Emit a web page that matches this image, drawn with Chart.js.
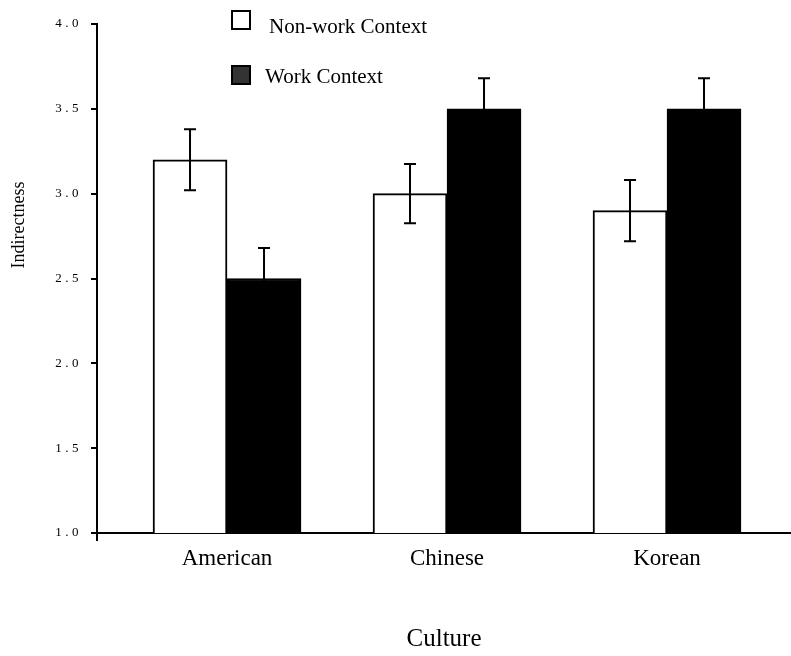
<!DOCTYPE html>
<html><head><meta charset="utf-8">
<script src="https://cdn.jsdelivr.net/npm/chart.js@4.4.1/dist/chart.umd.min.js"></script>
<style>html,body{margin:0;padding:0;background:#fff;overflow:hidden;}</style>
</head><body>
<canvas id="c" width="791" height="656" style="display:block;width:791px;height:656px"></canvas>
<script>
const categories = ['American', 'Chinese', 'Korean'];
const seriesNames = ['Non-work Context', 'Work Context'];
const nonWork = [3.2, 3.0, 2.9];
const work = [2.5, 3.5, 3.5];
const nonWorkErr = [0.18, 0.175, 0.18];
const workErr = [0.18, 0.18, 0.18];
const yTicks = [1.0, 1.5, 2.0, 2.5, 3.0, 3.5, 4.0];
const xTitle = 'Culture';
const yTitle = 'Indirectness';

const SERIF = '"Liberation Serif", "Times New Roman", serif';

const errorBarPlugin = {
  id: 'errorBars',
  afterDatasetsDraw(chart) {
    const ctx = chart.ctx, ys = chart.scales.y;
    ctx.save();
    ctx.strokeStyle = '#000';
    ctx.lineWidth = 2;
    chart.data.datasets.forEach((ds, di) => {
      const meta = chart.getDatasetMeta(di);
      meta.data.forEach((bar, i) => {
        const v = ds.data[i].y, e = ds.errors[i];
        const yt = ys.getPixelForValue(v + e), yb = ys.getPixelForValue(v - e);
        const x = bar.x, cap = 6;
        ctx.beginPath();
        ctx.moveTo(x, yt); ctx.lineTo(x, yb);
        ctx.moveTo(x - cap, yt); ctx.lineTo(x + cap, yt);
        ctx.moveTo(x - cap, yb); ctx.lineTo(x + cap, yb);
        ctx.stroke();
      });
    });
    ctx.restore();
  }
};

const legendColors = ['#ffffff', '#333333'];
const customLegend = {
  id: 'customLegend',
  afterDraw(chart) {
    const ctx = chart.ctx;
    ctx.save();
    const items = [
      {bx: 232, by: 11, tx: 269, ty: 33},
      {bx: 232, by: 66, tx: 265, ty: 83}
    ];
    seriesNames.forEach((name, i) => {
      const it = items[i];
      ctx.fillStyle = legendColors[i];
      ctx.fillRect(it.bx, it.by, 18, 18);
      ctx.strokeStyle = '#000';
      ctx.lineWidth = 2;
      ctx.strokeRect(it.bx, it.by, 18, 18);
      ctx.fillStyle = '#000';
      ctx.font = '21px ' + SERIF;
      ctx.textBaseline = 'alphabetic';
      ctx.textAlign = 'left';
      ctx.fillText(name, it.tx, it.ty);
    });
    // y axis title
    ctx.save();
    ctx.translate(19, 225);
    ctx.rotate(-Math.PI / 2);
    ctx.font = '18px ' + SERIF;
    ctx.textAlign = 'center';
    ctx.textBaseline = 'middle';
    ctx.fillStyle = '#000';
    ctx.fillText(yTitle, 0, 0);
    ctx.restore();
    // small extension of the y axis below the x axis
    const ca = chart.chartArea;
    ctx.strokeStyle = '#000';
    ctx.lineWidth = 2;
    ctx.beginPath();
    ctx.moveTo(ca.left, ca.bottom);
    ctx.lineTo(ca.left, ca.bottom + 8);
    ctx.stroke();
    ctx.restore();
  }
};

const ySpacing = {
  id: 'ySpacing',
  beforeDraw(chart) {
    const s = chart.scales.y;
    if (!s.__patched) {
      const orig = s.drawLabels;
      s.drawLabels = function (ca) {
        this.ctx.save();
        this.ctx.letterSpacing = '3.5px';
        orig.call(this, ca);
        this.ctx.restore();
      };
      s.__patched = true;
    }
  }
};

new Chart(document.getElementById('c'), {
  type: 'bar',
  data: {
    datasets: [
      {
        label: seriesNames[0],
        data: categories.map((c, i) => ({x: i, y: nonWork[i]})),
        errors: nonWorkErr,
        backgroundColor: '#ffffff',
        borderColor: '#000000',
        borderWidth: 2,
        barThickness: 74
      },
      {
        label: seriesNames[1],
        data: categories.map((c, i) => ({x: i, y: work[i]})),
        errors: workErr,
        backgroundColor: '#000000',
        borderColor: '#000000',
        borderWidth: 2,
        barThickness: 74
      }
    ]
  },
  options: {
    responsive: false,
    animation: false,
    layout: {padding: {top: 24, left: 0, right: 0, bottom: 0}},
    plugins: {legend: {display: false}, tooltip: {enabled: false}},
    scales: {
      x: {
        type: 'linear',
        offset: false,
        min: -0.591,
        max: 2.5636,
        afterBuildTicks: s => { s.ticks = categories.map((c, i) => ({value: i})); },
        afterFit: s => { s.height = 123; },
        ticks: {
          callback: v => categories[v],
          color: '#000',
          font: {family: SERIF, size: 23},
          padding: 12,
          autoSkip: false,
          maxRotation: 0
        },
        grid: {display: false, drawTicks: false, offset: false},
        border: {display: true, color: '#000', width: 2},
        title: {display: true, text: xTitle, color: '#000', font: {family: SERIF, size: 25}, padding: {top: 0, bottom: 2}}
      },
      y: {
        min: 1,
        max: 4,
        afterBuildTicks: s => { s.ticks = yTicks.map(v => ({value: v})); },
        afterFit: s => { s.width = 97; },
        ticks: {
          callback: v => Number(v).toFixed(1),
          color: '#000',
          font: {family: SERIF, size: 13},
          padding: 9
        },
        grid: {drawOnChartArea: false, drawTicks: true, tickLength: 6, color: '#000', lineWidth: 2},
        border: {display: true, color: '#000', width: 2},
        title: {display: false}
      }
    }
  },
  plugins: [errorBarPlugin, customLegend, ySpacing]
});
</script>
</body></html>
